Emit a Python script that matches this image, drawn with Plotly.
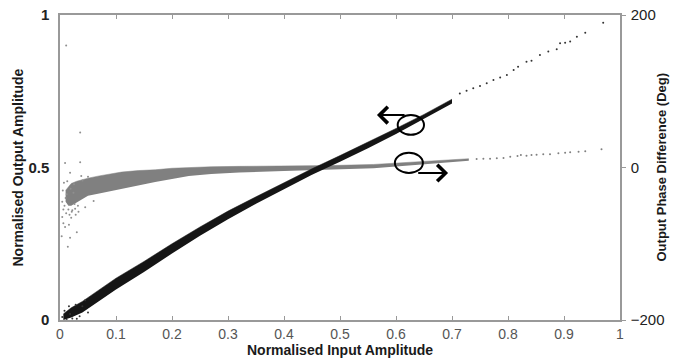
import plotly.graph_objects as go

# ---------------- data ----------------
# AM/AM (black, left axis): dense band envelope
am_x = [0.006, 0.02, 0.04, 0.06, 0.1, 0.15, 0.2, 0.25, 0.3, 0.35, 0.4, 0.45, 0.5, 0.55, 0.6, 0.65, 0.7]
am_upper = [0.02, 0.04, 0.061, 0.087, 0.137, 0.192, 0.25, 0.305, 0.357, 0.404, 0.451, 0.496, 0.539, 0.583, 0.628, 0.674, 0.724]
am_lower = [0.0, 0.008, 0.025, 0.05, 0.1, 0.157, 0.218, 0.276, 0.33, 0.381, 0.429, 0.476, 0.519, 0.563, 0.61, 0.659, 0.71]
# AM/AM sparse points at high amplitude
am_sx = [0.714, 0.726, 0.738, 0.750, 0.762, 0.774, 0.786, 0.798, 0.810, 0.818, 0.833,
         0.842, 0.857, 0.872, 0.887, 0.893, 0.902, 0.911, 0.923, 0.938, 0.970]
am_sy = [0.743, 0.752, 0.760, 0.767, 0.776, 0.787, 0.795, 0.803, 0.820, 0.830, 0.847,
         0.850, 0.869, 0.880, 0.888, 0.907, 0.909, 0.913, 0.929, 0.942, 0.975]
# AM/AM scattered points near origin
am_ox = [0.004, 0.008, 0.012, 0.016, 0.022, 0.028, 0.035, 0.045, 0.03, 0.05, 0.018, 0.04]
am_oy = [0.01, 0.03, 0.0, 0.045, 0.005, 0.05, 0.012, 0.065, 0.004, 0.025, 0.02, 0.045]

# AM/PM (grey, right axis, degrees): dense band envelope
pm_x = [0.01, 0.015, 0.02, 0.03, 0.04, 0.05, 0.07, 0.09, 0.11, 0.14, 0.17, 0.2, 0.23, 0.27, 0.32, 0.4, 0.48, 0.56, 0.64, 0.7, 0.73]
pm_upper = [-30, -25, -21, -18, -16, -14, -11, -8, -6, -4, -3, -1, 0, 1, 1.5, 2, 2.5, 4, 7.5, 10.5, 11.5]
pm_lower = [-45, -50, -50, -46, -41, -37, -34, -31, -28, -23, -19, -15, -11, -8.5, -6.5, -4.5, -3, -1, 3.5, 7, 9]
# AM/PM sparse points at high amplitude
pm_sx = [0.744, 0.756, 0.768, 0.780, 0.792, 0.804, 0.817, 0.823, 0.833, 0.842, 0.851,
         0.863, 0.875, 0.890, 0.902, 0.911, 0.926, 0.938, 0.967]
pm_sy = [11.1, 11.6, 11.6, 12.0, 12.5, 14.2, 15.1, 16.4, 15.5, 16.4, 16.8,
         17.3, 17.3, 18.6, 19.4, 19.9, 20.8, 21.2, 23.8]
# AM/PM scattered outliers at low amplitude
pm_ox = [0.011, 0.036, 0.009, 0.036, 0.018, 0.004, 0.009, 0.018, 0.014, 0.006,
         0.005, 0.01, 0.025, 0.03, 0.045, 0.06, 0.015, 0.008, 0.022, 0.028, 0.003, 0.04,
         0.012, 0.02, 0.026, 0.033, 0.007, 0.016, 0.024, 0.05, 0.011, 0.019, 0.038, 0.004,
         0.013, 0.021, 0.027, 0.006, 0.017, 0.032]
pm_oy = [160, 46, 6, 7, -7, -65, -78, -92, -104, -73,
         -30, -40, -22, -85, -52, -44, -55, -50, -56, -62, -90, -17,
         -35, -66, -48, -58, -20, -75, -33, -12, -60, -28, -11, -45,
         -18, -58, -54, -55, -62, -50]

x_ticks = [0, 0.1, 0.2, 0.3, 0.4, 0.5, 0.6, 0.7, 0.8, 0.9, 1]
x_tick_text = ["0", "0.1", "0.2", "0.3", "0.4", "0.5", "0.6", "0.7", "0.8", "0.9", "1"]
y_ticks = [0, 0.5, 1]
y_tick_text = ["0", "0.5", "1"]
y2_ticks = [-200, 0, 200]

BLACK = "#151515"
GREY = "#808080"

fig = go.Figure()

# grey AM/PM -> phase axis (yaxis, drawn on the right)
fig.add_trace(go.Scatter(x=pm_x, y=pm_lower, mode="lines", line=dict(width=0, color=GREY),
                         yaxis="y", showlegend=False, hoverinfo="skip"))
fig.add_trace(go.Scatter(x=pm_x, y=pm_upper, mode="lines", line=dict(width=0.5, color=GREY),
                         fill="tonexty", fillcolor=GREY, yaxis="y", showlegend=False))
fig.add_trace(go.Scatter(x=pm_sx, y=pm_sy, mode="markers", marker=dict(size=2, color=GREY),
                         yaxis="y", showlegend=False))
fig.add_trace(go.Scatter(x=pm_ox, y=pm_oy, mode="markers", marker=dict(size=2, color="#8f8f8f"),
                         yaxis="y", showlegend=False))

# black AM/AM -> amplitude axis (yaxis2, drawn on the left, on top)
fig.add_trace(go.Scatter(x=am_x, y=am_lower, mode="lines", line=dict(width=0, color=BLACK),
                         yaxis="y2", showlegend=False, hoverinfo="skip"))
fig.add_trace(go.Scatter(x=am_x, y=am_upper, mode="lines", line=dict(width=0.5, color=BLACK),
                         fill="tonexty", fillcolor=BLACK, yaxis="y2", showlegend=False))
fig.add_trace(go.Scatter(x=am_sx, y=am_sy, mode="markers", marker=dict(size=2, color="#333333"),
                         yaxis="y2", showlegend=False))
fig.add_trace(go.Scatter(x=am_ox, y=am_oy, mode="markers", marker=dict(size=2, color="#333333"),
                         yaxis="y2", showlegend=False))

# ellipses and arrows (positions in amplitude coordinates)
fig.add_shape(type="circle", xref="x", yref="y2", x0=0.603, x1=0.65, y0=0.607, y1=0.672,
              line=dict(color="black", width=2))
fig.add_shape(type="circle", xref="x", yref="y2", x0=0.598, x1=0.648, y0=0.482, y1=0.548,
              line=dict(color="black", width=2))
fig.add_annotation(x=0.566, y=0.672, ax=0.618, ay=0.672, xref="x", yref="y2", axref="x", ayref="y2",
                   showarrow=True, arrowhead=4, arrowsize=1.6, arrowwidth=2, arrowcolor="black", text="")
fig.add_annotation(x=0.693, y=0.482, ax=0.637, ay=0.482, xref="x", yref="y2", axref="x", ayref="y2",
                   showarrow=True, arrowhead=4, arrowsize=1.6, arrowwidth=2, arrowcolor="black", text="")

# axis titles
TF = dict(size=14, color="#1a1a1a", weight="bold")
fig.add_annotation(text="Normalised Input Amplitude", xref="paper", yref="paper", x=0.5, y=0,
                   yshift=-30, xanchor="center", yanchor="middle", showarrow=False, font=TF)
fig.add_annotation(text="Normalised Output Amplitude", xref="paper", yref="paper", x=0, y=0.5,
                   xshift=-43, textangle=-90, xanchor="center", yanchor="middle", showarrow=False, font=TF)
fig.add_annotation(text="Output Phase Difference (Deg)", xref="paper", yref="paper", x=1, y=0.5,
                   xshift=41, textangle=-90, xanchor="center", yanchor="middle", showarrow=False,
                   font=dict(size=13, color="#1a1a1a", weight="bold"))

fig.update_layout(
    width=684, height=359,
    margin=dict(l=60, r=64, t=15, b=39, autoexpand=False),
    paper_bgcolor="white", plot_bgcolor="white",
    font=dict(family="Liberation Sans, Arial, sans-serif", color="#222"),
    xaxis=dict(range=[0, 1], tickvals=x_ticks, ticktext=x_tick_text, automargin=False,
               ticks="inside", ticklen=4, tickcolor="#999", showline=True, linecolor="#999",
               linewidth=1.5, mirror="ticks", showgrid=False, zeroline=False,
               tickfont=dict(size=14, color="#555")),
    yaxis=dict(range=[-200, 200], tickvals=y2_ticks, side="right", automargin=False,
               ticks="outside", ticklen=4, tickcolor="#999", showline=True, linecolor="#999",
               linewidth=1.5, showgrid=False, zeroline=False, ticklabelstandoff=2,
               tickfont=dict(size=15, color="#222")),
    yaxis2=dict(range=[0, 1], tickvals=y_ticks, ticktext=y_tick_text, overlaying="y", side="left",
                anchor="x", automargin=False,
                ticks="", showline=True, linecolor="#999", linewidth=1.5,
                showgrid=False, zeroline=False, ticklabelstandoff=6,
                tickfont=dict(size=15, color="#222", weight="bold")),
)

fig.write_html("out.html", config={"displayModeBar": False},
               post_script="document.body.style.margin='0';")
